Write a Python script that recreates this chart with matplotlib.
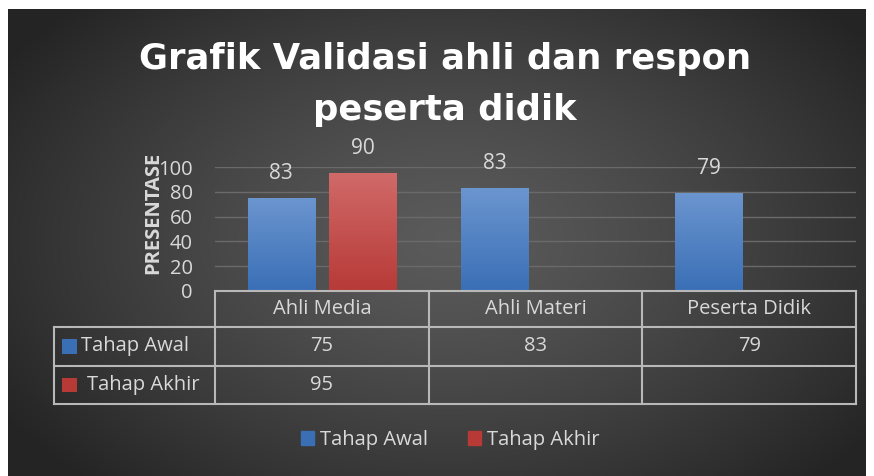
import numpy as np
import matplotlib.pyplot as plt
from matplotlib.patches import Rectangle
from matplotlib.lines import Line2D
import matplotlib.transforms as mtransforms

plt.rcParams['font.family'] = ['Open Sans', 'DejaVu Sans']

categories = ['Ahli Media', 'Ahli Materi', 'Peserta Didik']
series_names = ['Tahap Awal', 'Tahap Akhir']
tahap_awal = [75, 83, 79]
tahap_akhir = [95, None, None]
# data labels as they appear on the chart
label_awal = ['83', '83', '79']
label_akhir = ['90', '', '']
yticks = [0, 20, 40, 60, 80, 100]

TXT = '#d9d9d9'
BLUE_TOP, BLUE_BOT = '#6b95cf', '#3a6fb6'
RED_TOP, RED_BOT = '#d06a69', '#b73a37'

W, H = 874, 476
fig = plt.figure(figsize=(W / 100, H / 100), dpi=100)
fig.patch.set_facecolor('white')

# dark radial background
bg = fig.add_axes([8 / W, 0, 858 / W, 467 / H], zorder=-10)
yy, xx = np.mgrid[0:467, 0:858]
r = np.sqrt(((xx - 440) / 520.0) ** 2 + ((yy - 230) / 330.0) ** 2)
r = np.clip(r, 0, 1)
v = 0.355 - 0.21 * r ** 1.3
bg.imshow(np.dstack([v, v, v]), aspect='auto', extent=[0, 1, 0, 1])
bg.set_axis_off()

ax = fig.add_axes([215 / W, 1 - 291 / H, 641 / W, 124 / H])
ax.set_facecolor('none')
x = np.arange(len(categories))
bw = 0.315
off = 0.19


def grad_bar(xc, h, top, bot):
    b = ax.bar(xc, h, width=bw, color='none', zorder=3)[0]
    cm = np.linspace(0, 1, 100)[:, None]
    c1 = np.array(plt.matplotlib.colors.to_rgb(top))
    c2 = np.array(plt.matplotlib.colors.to_rgb(bot))
    img = c1[None, None, :] * (1 - cm[..., None]) + c2[None, None, :] * cm[..., None]
    im = ax.imshow(img, extent=[b.get_x(), b.get_x() + bw, 0, h], aspect='auto', zorder=3)
    im.set_clip_path(b)
    return b


for i in range(len(categories)):
    has_red = tahap_akhir[i] is not None
    xa = x[i] - off
    if tahap_awal[i] is not None:
        grad_bar(xa, tahap_awal[i], BLUE_TOP, BLUE_BOT)
        ax.text(xa, tahap_awal[i] + 20, label_awal[i], ha='center', va='center',
                color=TXT, fontsize=15)
    if has_red:
        grad_bar(x[i] + off, tahap_akhir[i], RED_TOP, RED_BOT)
        ax.text(x[i] + off, tahap_akhir[i] + 20, label_akhir[i], ha='center', va='center',
                color=TXT, fontsize=15)

ax.set_xlim(-0.5, 2.5)
ax.set_ylim(0, 100)
ax.set_yticks(yticks)
ax.set_xticks([])
ax.tick_params(axis='y', length=0, labelsize=14.5, labelcolor=TXT, pad=16)
ax.grid(axis='y', color='#6a6a6a', lw=1, zorder=0)
for s in ax.spines.values():
    s.set_visible(False)
ax.set_ylabel('PRESENTASE', fontsize=14.5, fontweight='bold', color=TXT)
ax.yaxis.set_label_coords(-0.08, 0.63)

# data table
tr = mtransforms.blended_transform_factory(ax.transData, ax.transAxes)
lc = '#b8b8b8'
left = -1.255
rows = [0, -0.29, -0.605, -0.911]
kw = dict(transform=tr, color=lc, lw=1.5, clip_on=False, zorder=4)
ax.add_line(Line2D([-0.5, 2.5], [rows[0], rows[0]], **kw))
for yv in rows[1:]:
    ax.add_line(Line2D([left, 2.5], [yv, yv], **kw))
for xv in [-0.5, 0.5, 1.5, 2.5]:
    ax.add_line(Line2D([xv, xv], [rows[0], rows[3]], **kw))
ax.add_line(Line2D([left, left], [rows[1], rows[3]], **kw))

for i, c in enumerate(categories):
    ax.text(x[i], (rows[0] + rows[1]) / 2, c, transform=tr, ha='center', va='center',
            color=TXT, fontsize=14.5)
    ax.text(x[i], (rows[1] + rows[2]) / 2, str(tahap_awal[i]), transform=tr,
            ha='center', va='center', color=TXT, fontsize=14.5)
    if tahap_akhir[i] is not None:
        ax.text(x[i], (rows[2] + rows[3]) / 2, str(tahap_akhir[i]), transform=tr,
                ha='center', va='center', color=TXT, fontsize=14.5)

# legend keys inside the table
for k, (name, col) in enumerate(zip(series_names, [BLUE_BOT, RED_BOT])):
    ym = (rows[k + 1] + rows[k + 2]) / 2
    ax.add_patch(Rectangle((-0.2387, ym - 0.06), 0.0234, 0.12, transform=ax.transAxes,
                           facecolor=col, edgecolor='none', clip_on=False, zorder=4))
    ax.text(left + 0.127 + 0.028 * k, ym, name, transform=tr, ha='left', va='center',
            color=TXT, fontsize=14.5)

handles = [Rectangle((0, 0), 1, 1, color=BLUE_BOT), Rectangle((0, 0), 1, 1, color=RED_BOT)]
fig.legend(handles, series_names, loc='center', bbox_to_anchor=(0.515, 1 - 440 / H),
           ncol=2, frameon=False, fontsize=14.5, labelcolor=TXT,
           handlelength=0.65, handleheight=0.65, handletextpad=0.3, columnspacing=2.0)

fig.text(0.509, 1 - 59 / H, 'Grafik Validasi ahli dan respon', ha='center', va='center',
         color='white', fontsize=25.5, fontweight='bold', family='DejaVu Sans')
fig.text(0.509, 1 - 110 / H, 'peserta didik', ha='center', va='center',
         color='white', fontsize=25.5, fontweight='bold', family='DejaVu Sans')

fig.savefig('out.png', dpi=100)
